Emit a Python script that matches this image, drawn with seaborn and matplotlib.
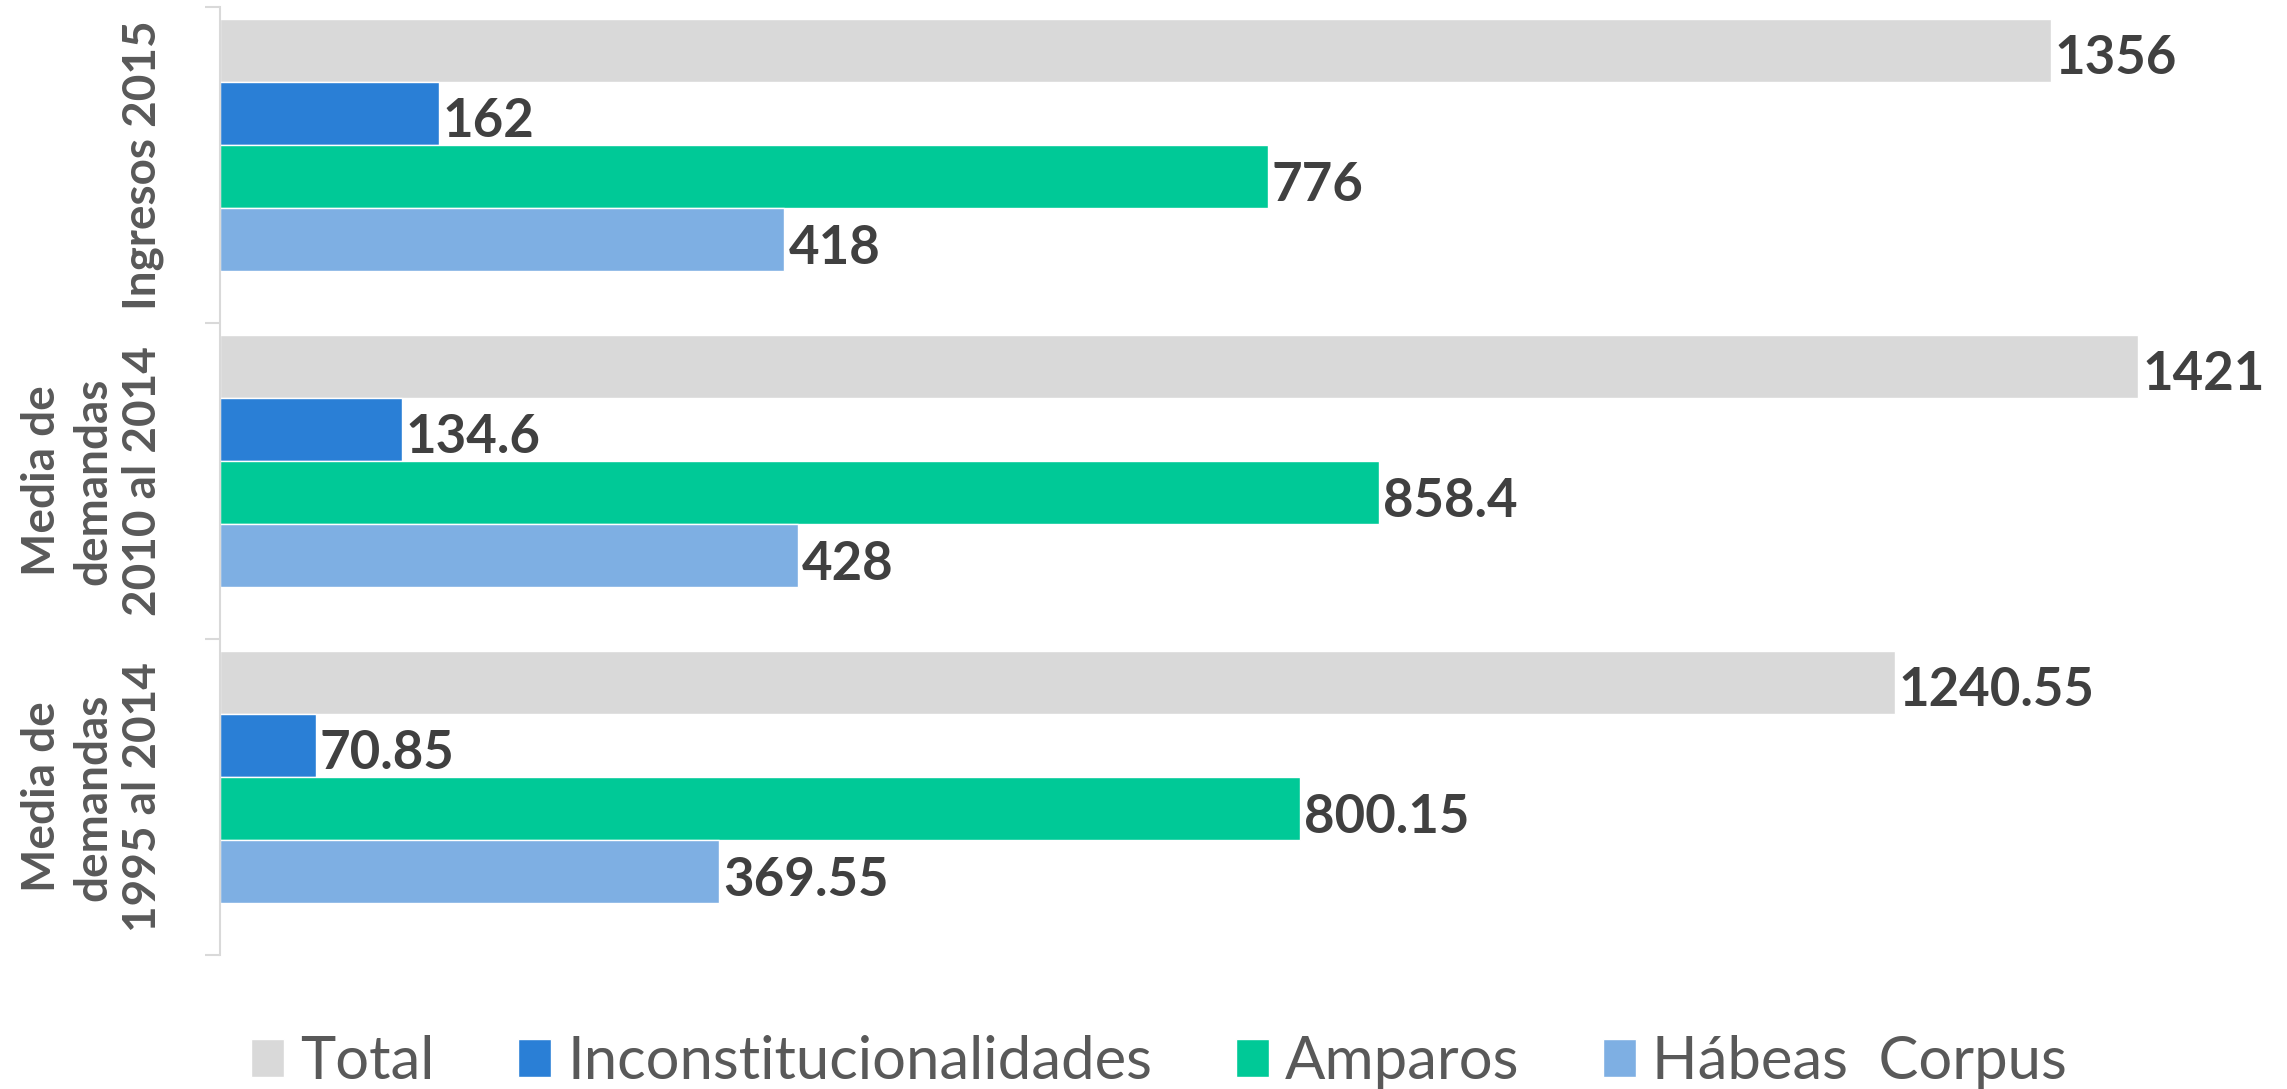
"""Horizontal grouped bars: demandas por tipo (Total, Inconstitucionalidades, Amparos, Hábeas Corpus)."""

import matplotlib.pyplot as plt
import pandas as pd
import seaborn as sns

categories = [
    "Ingresos 2015",
    "Media de\ndemandas\n2010 al 2014",
    "Media de\ndemandas\n1995 al 2014",
]
series = ["Total", "Inconstitucionalidades", "Amparos", "Hábeas  Corpus"]

total = [1356, 1421, 1240.55]
inconstitucionalidades = [162, 134.6, 70.85]
amparos = [776, 858.4, 800.15]
habeas_corpus = [418, 428, 369.55]

values = {
    "Total": total,
    "Inconstitucionalidades": inconstitucionalidades,
    "Amparos": amparos,
    "Hábeas  Corpus": habeas_corpus,
}
palette = {
    "Total": "#d9d9d9",
    "Inconstitucionalidades": "#2a7fd6",
    "Amparos": "#00c997",
    "Hábeas  Corpus": "#7eafe3",
}

df = pd.DataFrame(
    [(cat, s, v) for s in series for cat, v in zip(categories, values[s])],
    columns=["category", "series", "value"],
)

sns.set_style("white")
plt.rcParams["font.family"] = ["Lato", "DejaVu Sans"]

W, H = 2287, 1089
fig = plt.figure(figsize=(W / 100, H / 100), dpi=100)
ax = fig.add_axes([220 / W, 1 - 955 / H, (W - 220) / W, (955 - 7) / H])

sns.barplot(
    data=df,
    y="category",
    x="value",
    hue="series",
    order=categories,
    hue_order=series,
    palette=palette,
    orient="h",
    width=0.8,
    saturation=1,
    errorbar=None,
    ax=ax,
)

# value labels at the end of each bar, a touch below the bar centre
for cont, s in zip(ax.containers, series):
    anns = ax.bar_label(
        cont,
        labels=[f"{v:g}" for v in values[s]],
        padding=3,
        fontsize=38,
        fontweight="bold",
        color="#404040",
    )
    for a in anns:
        a.xyann = (3, -6)

# bars sit a little above the category centre (3D look of the original)
off = 0.063
ax.set_ylim(2.5 + off, -0.5 + off)
ax.set_xlim(0, (W - 220) / 1.35)

ax.set_yticks([-0.5 + off, 0.5 + off, 1.5 + off, 2.5 + off], labels=[""] * 4)
ax.set_yticks([0 + off, 1 + off, 2 + off], labels=categories, minor=True)
ax.tick_params(axis="y", which="major", length=11, width=1.5, color="#d9d9d9", left=True)
ax.tick_params(
    axis="y", which="minor", length=0, pad=40, labelsize=33,
    labelcolor="#595959", labelrotation=90, left=True,
)
for lbl in ax.get_yticklabels(minor=True):
    lbl.set_fontweight("bold")
    lbl.set_linespacing(1.25)
    lbl.set_multialignment("center")
    lbl.set_verticalalignment("center")

ax.set_xticks([])
ax.set_xlabel("")
ax.set_ylabel("")
for side in ["top", "right", "bottom"]:
    ax.spines[side].set_visible(False)
ax.spines["left"].set_color("#d9d9d9")
ax.spines["left"].set_linewidth(1.5)

handles, labels = ax.get_legend_handles_labels()
ax.get_legend().remove()
fig.legend(
    handles,
    labels,
    loc="center",
    bbox_to_anchor=(1159 / W, 1 - 1062 / H),
    ncol=4,
    frameon=False,
    fontsize=43,
    handlelength=0.55,
    handleheight=0.6,
    handletextpad=0.27,
    columnspacing=1.4,
    labelcolor="#595959",
)

plt.savefig("out.png", dpi=100)
print("Saved out.png")
